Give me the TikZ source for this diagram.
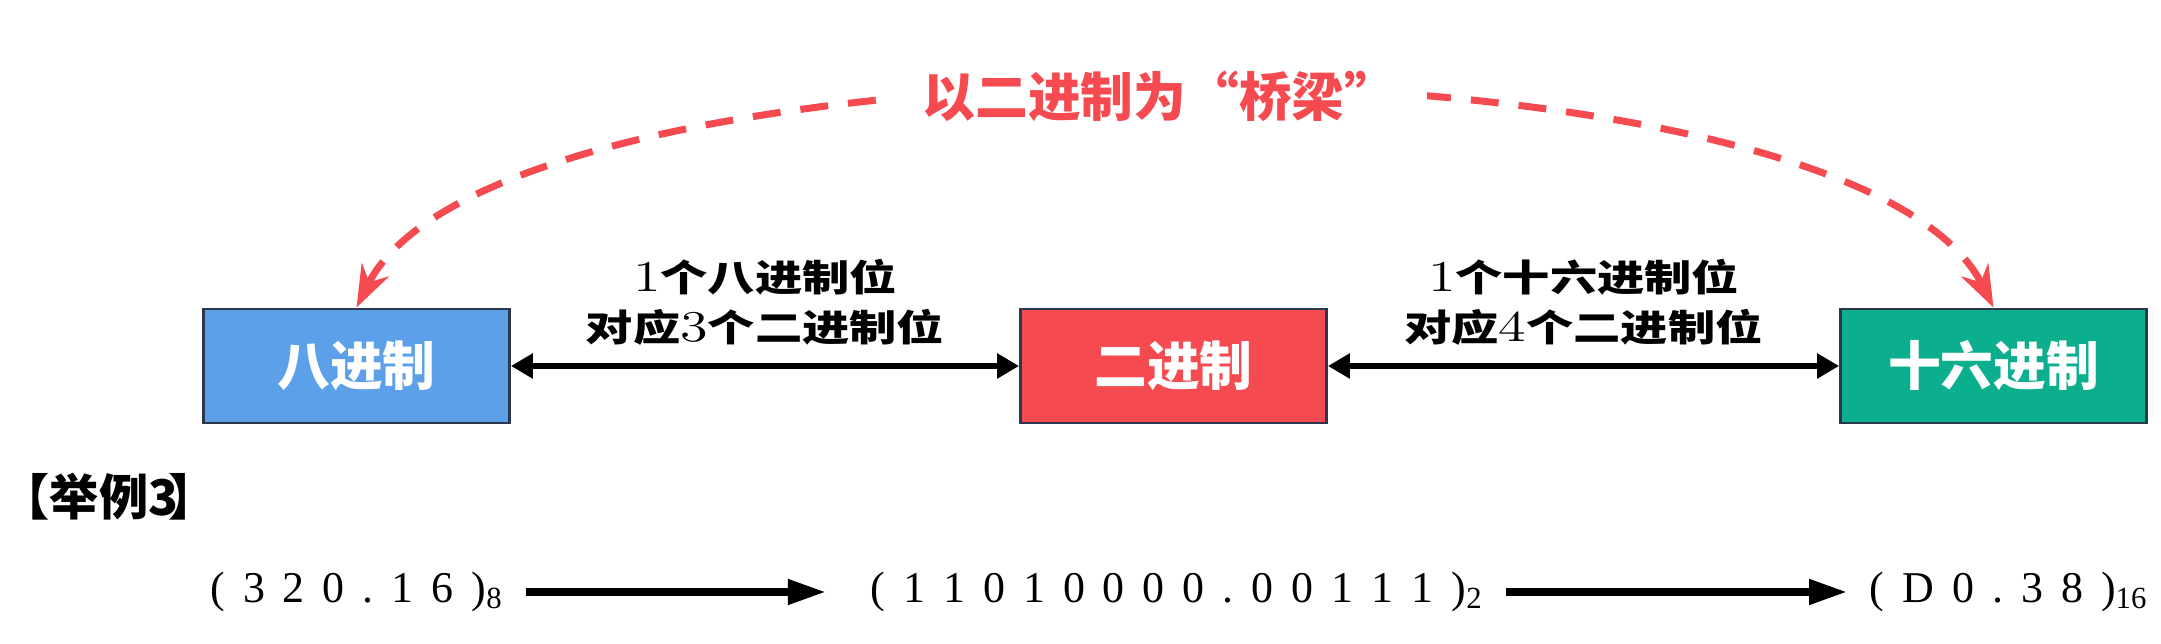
\documentclass[tikz,border=0pt]{standalone}
\usepackage{fontspec}
\newfontfamily\cjk{Noto Sans CJK SC}
\newfontfamily\numfont{Liberation Serif}
\usetikzlibrary{arrows.meta}

\definecolor{octblue}{RGB}{91,160,232}
\definecolor{binred}{RGB}{245,74,80}
\definecolor{hexgreen}{RGB}{11,175,141}
\definecolor{boxline}{RGB}{45,55,75}

\newcommand{\wide}[1]{\scalebox{1.28}[1]{#1}}
\newcommand{\dig}[1]{{\rmfamily\mdseries\fontsize{12.5pt}{14.2pt}\selectfont #1}}
\newcommand{\dg}{\hspace{0.18cm}}

\begin{document}
\begin{tikzpicture}[
  radix/.style={draw=boxline,line width=0.8pt,minimum width=3.06cm,minimum height=1.14cm,
    text=white,font=\cjk\bfseries\fontsize{15pt}{15pt}\selectfont},
  rule/.style={font=\cjk\bfseries\fontsize{10.5pt}{14.2pt}\selectfont,align=center},
  biarrow/.style={line width=0.06cm,{Triangle[length=0.22cm,width=0.24cm]}-{Triangle[length=0.22cm,width=0.24cm]}},
  bigarrow/.style={line width=0.075cm,-{Triangle[length=0.38cm,width=0.24cm]}},
  example/.style={font=\numfont\fontsize{12.5pt}{14pt}\selectfont,inner xsep=0.22cm}
]
  \useasboundingbox (0,0) rectangle (21.61,6.44);

  % the three systems
  \node[radix,fill=octblue] (oct) at (3.565,2.78) {八进制};
  \node[radix,fill=binred] (bin) at (11.735,2.78) {二进制};
  \node[radix,fill=hexgreen] (hex) at (19.935,2.78) {十六进制};

  \draw[biarrow] (oct) -- (bin)
    node[rule,midway,yshift=0.64cm] (r8) {\wide{\dig{1}个八进制位}\\\wide{对应\dig{3}个二进制位}};
  \draw[biarrow] (bin) -- (hex)
    node[rule,midway,yshift=0.64cm] (r16) {\wide{\dig{1}个十六进制位}\\\wide{对应\dig{4}个二进制位}};

  % bridge
  \draw[binred,line width=0.07cm,dash pattern=on 0.28cm off 0.2cm,
    {Stealth[length=0.42cm,width=0.3cm]}-{Stealth[length=0.42cm,width=0.3cm]}]
    (oct.north) .. controls +(1.44,2.89) and +(-1.44,2.89) .. (hex.north);
  \node[fill=white,inner xsep=0.3cm,text=binred,font=\cjk\bfseries\fontsize{15pt}{15pt}\selectfont]
    (bridge) at (11.6,5.48) {以二进制为“桥梁”};

  % example
  \node[anchor=west,inner sep=0pt,font=\cjk\bfseries\fontsize{14pt}{14pt}\selectfont]
    (ex) at (0,1.47) {【举例3\kern-0.1cm】};

  \node[example] (n8) at (3.57,0.52) {(\dg3\dg2\dg0\dg.\dg1\dg6\dg)\textsubscript{8}};
  \node[example] (n2) at (11.77,0.52) {(\dg1\dg1\dg0\dg1\dg0\dg0\dg0\dg0\dg.\dg0\dg0\dg1\dg1\dg1\dg)\textsubscript{2}};
  \node[example] (n16) at (20.09,0.52) {(\dg D\dg0\dg.\dg3\dg8\dg)\textsubscript{16}};

  \draw[bigarrow,shorten >=0.22cm] (n8) -- (n2);
  \draw[bigarrow] (n2) -- (n16);

\end{tikzpicture}
\end{document}
